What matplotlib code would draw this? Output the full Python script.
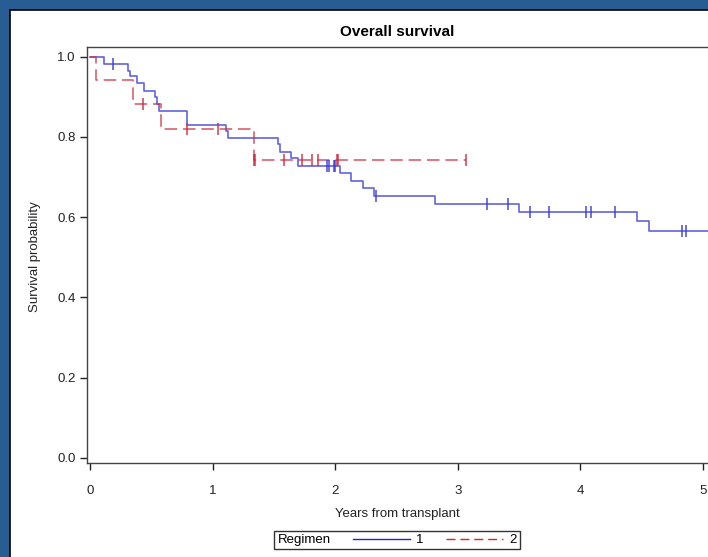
import numpy as np
import matplotlib
matplotlib.use("Agg")
import matplotlib.pyplot as plt
from matplotlib.lines import Line2D
from matplotlib.patches import Rectangle

plt.rcParams['font.family'] = ['Liberation Sans', 'DejaVu Sans']

# Regimen 1 (Kaplan-Meier step points)
times1 = [0, 0.114, 0.307, 0.326, 0.386, 0.44, 0.533, 0.544, 0.566, 0.795, 1.109, 1.128,
          1.531, 1.55, 1.64, 1.70, 2.039, 2.129, 2.23, 2.32, 2.81, 3.50, 4.459, 4.562, 5.2]
surv1 = [1.0, 0.982, 0.965, 0.952, 0.934, 0.915, 0.899, 0.882, 0.864, 0.830, 0.816, 0.798,
         0.782, 0.763, 0.747, 0.728, 0.709, 0.691, 0.673, 0.653, 0.634, 0.613, 0.591, 0.565, 0.565]
cens1 = [0.185, 1.93, 1.947, 1.99, 2.00, 2.33, 3.235, 3.406, 3.589, 3.744, 4.046, 4.087,
         4.286, 4.826, 4.859]

# Regimen 2
times2 = [0, 0.049, 0.348, 0.577, 1.335, 3.07]
surv2 = [1.0, 0.942, 0.882, 0.819, 0.743, 0.743]
cens2 = [0.43, 0.795, 1.047, 1.335, 1.345, 1.583, 1.727, 1.808, 1.862, 2.012, 2.02, 3.07]

xticks = [0, 1, 2, 3, 4, 5]
yticks = [0.0, 0.2, 0.4, 0.6, 0.8, 1.0]

blue = '#3a3ad8'
red = '#cc2d40'


def step_at(t, times, surv):
    idx = np.searchsorted(times, t, side='right') - 1
    return np.asarray(surv)[idx]


W, H = 708, 557
fig = plt.figure(figsize=(W / 100, H / 100), dpi=100)
fig.patch.set_facecolor('#275d92')
fig.add_artist(Rectangle((10 / W, 0), 1, 1 - 10 / H, transform=fig.transFigure,
                         facecolor='white', edgecolor='none', zorder=-10))
fig.add_artist(Line2D([10 / W, 10 / W], [0, 1 - 9.5 / H], transform=fig.transFigure,
                      color='black', lw=1.2))
fig.add_artist(Line2D([10 / W, 1], [1 - 9.5 / H, 1 - 9.5 / H], transform=fig.transFigure,
                      color='black', lw=1.2))

left_px, right_px, top_px, bot_px = 86.7, 740.0, 47.3, 463.0
ax = fig.add_axes([left_px / W, 1 - bot_px / H, (right_px - left_px) / W, (bot_px - top_px) / H])
x0 = 90.0
pxu = 122.6
ax.set_xlim(-(x0 - left_px) / pxu, (right_px - x0) / pxu)
ax.set_ylim(-(463 - 458) / 401.3, 1 + (56.7 - 47.3) / 401.3)

ax.step(times1, surv1, where='post', color=blue, lw=1.2, alpha=0.8)
ax.step(times2, surv2, where='post', color=red, lw=1.2, alpha=0.75, dashes=(7.5, 3.5))
ax.plot(cens1, step_at(cens1, times1, surv1), linestyle='none', marker='|',
        markersize=8, mew=1.2, color=blue, alpha=0.85)
ax.plot(cens2, step_at(cens2, times2, surv2), linestyle='none', marker='|',
        markersize=8, mew=1.2, color=red, alpha=0.85)

ax.set_xticks(xticks)
ax.set_xticklabels([str(v) for v in xticks])
ax.set_yticks(yticks)
ax.set_yticklabels([f'{v:.1f}' for v in yticks])
ax.tick_params(axis='both', direction='out', length=5, width=1, labelsize=9.5,
               colors='#222222', top=False, right=False)
ax.tick_params(axis='x', pad=11)
ax.tick_params(axis='y', pad=3)
for s in ['left', 'bottom', 'top']:
    ax.spines[s].set_color('#444444')
    ax.spines[s].set_linewidth(1)
ax.spines['right'].set_visible(False)

ax.set_xlabel('Years from transplant', fontsize=9.5, color='#222222')
ax.xaxis.set_label_coords(397 / W, 1 - 508 / H, transform=fig.transFigure)
ax.set_ylabel('Survival probability', fontsize=9.5, color='#222222')
ax.yaxis.set_label_coords(41 / W, 1 - 257 / H, transform=fig.transFigure)

fig.text(397 / W, 1 - 32 / H, 'Overall survival', fontsize=11, fontweight='bold',
         ha='center', va='center', color='black')

handles = [Line2D([], [], color='#2020e0', lw=1),
           Line2D([], [], color='#e02020', lw=1, dashes=(6.5, 3.5))]
leg = fig.legend(handles, ['1', '2'], ncol=2, title='Regimen', loc='center',
                 bbox_to_anchor=(397 / W, 1 - 540 / H), frameon=True, fancybox=False,
                 fontsize=9.5, title_fontsize=9.5, handlelength=4.3, handletextpad=0.5,
                 columnspacing=0.6, borderpad=0.25, borderaxespad=0)
leg.get_frame().set_edgecolor('black')
leg.get_frame().set_linewidth(1)
try:
    c = leg.get_children()[0]
    title = c.get_children()[0]
    hpack = c.get_children()[1]
    c._children = [hpack]
    hpack._children = [title] + hpack.get_children()
    hpack.sep = 16
    hpack.align = 'center'
except Exception:
    pass

fig.savefig('out.png', dpi=100)
